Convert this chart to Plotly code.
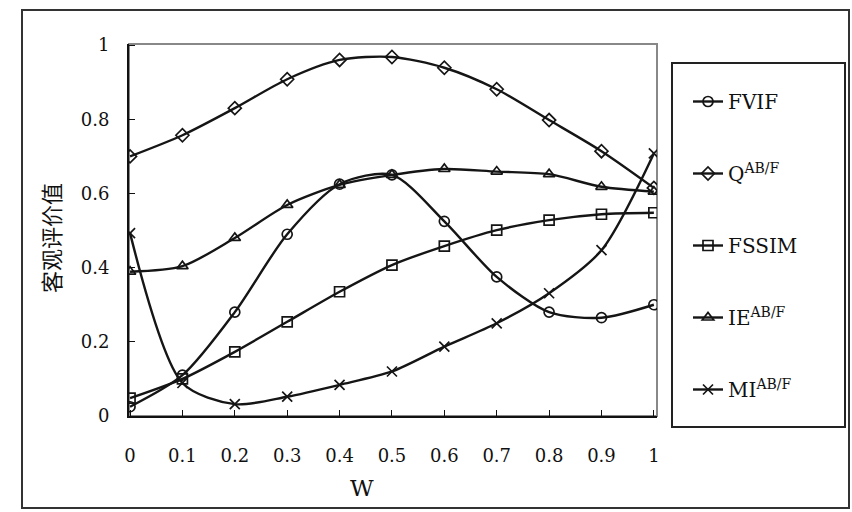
import plotly.graph_objects as go

# ---- data ----
w = [0, 0.1, 0.2, 0.3, 0.4, 0.5, 0.6, 0.7, 0.8, 0.9, 1.0]
fvif = [0.025, 0.11, 0.28, 0.49, 0.625, 0.65, 0.525, 0.375, 0.28, 0.265, 0.30]
qabf = [0.70, 0.757, 0.83, 0.908, 0.96, 0.968, 0.939, 0.881, 0.798, 0.714, 0.615]
fssim = [0.048, 0.10, 0.173, 0.254, 0.335, 0.407, 0.458, 0.501, 0.528, 0.544, 0.548]
ieabf = [0.389, 0.404, 0.48, 0.569, 0.623, 0.65, 0.666, 0.659, 0.652, 0.618, 0.605]
miabf = [0.493, 0.089, 0.032, 0.052, 0.084, 0.12, 0.187, 0.25, 0.331, 0.447, 0.708]
xticks = [0, 0.1, 0.2, 0.3, 0.4, 0.5, 0.6, 0.7, 0.8, 0.9, 1.0]
xticklabels = ["0", "0.1", "0.2", "0.3", "0.4", "0.5", "0.6", "0.7", "0.8", "0.9", "1"]
yticks = [0, 0.2, 0.4, 0.6, 0.8, 1.0]
yticklabels = ["0", "0.2", "0.4", "0.6", "0.8", "1"]

series = [
    ("FVIF", fvif, "circle-open"),
    ("Q<sup>AB/F</sup>", qabf, "diamond-open"),
    ("FSSIM", fssim, "square-open"),
    ("IE<sup>AB/F</sup>", ieabf, "triangle-up-open"),
    ("MI<sup>AB/F</sup>", miabf, "x-thin-open"),
]

W, H = 852, 512
L, R, T, B = 129, 657, 44, 416  # plot area pixels

fig = go.Figure()
for i, (name, vals, sym) in enumerate(series):
    fig.add_trace(go.Scatter(
        x=w, y=vals, name=name, mode="lines+markers",
        line=dict(color="#151515", width=2.4, shape="spline", smoothing=0.8),
        marker=dict(symbol=sym, size=10, color="#151515",
                    line=dict(width=1.7, color="#151515")),
        legendgroup=f"g{i}",
    ))

def px(xp):
    return (xp - L) / (R - L)

def py(yp):
    return (B - yp) / (B - T)

serif = "DejaVu Serif, Liberation Serif, serif"

fig.update_layout(
    width=W, height=H,
    margin=dict(l=L, r=W - R, t=T, b=H - B),
    paper_bgcolor="white", plot_bgcolor="white",
    font=dict(family=serif, size=18, color="#111"),
    showlegend=True,
    legend=dict(
        x=px(688), y=py(82), xanchor="left", yanchor="top",
        bgcolor="rgba(0,0,0,0)", borderwidth=0,
        font=dict(family=serif, size=20, color="#111"),
        tracegroupgap=43, itemwidth=30,
    ),
    xaxis=dict(
        range=[-0.002, 1.006], tickvals=xticks, ticktext=xticklabels,
        showgrid=False, zeroline=False, showline=True, linecolor="#111", linewidth=2,
        ticks="inside", ticklen=6, tickcolor="#111", ticklabelstandoff=22,
        tickfont=dict(family=serif, size=18, color="#111"),
    ),
    yaxis=dict(
        range=[0, 1.003], tickvals=yticks, ticktext=yticklabels,
        showgrid=False, zeroline=False, showline=True, linecolor="#111", linewidth=2,
        ticks="inside", ticklen=6, tickcolor="#111", ticklabelstandoff=14,
        tickfont=dict(family=serif, size=18, color="#111"),
    ),
    shapes=[
        # plot area frame (grey top/right)
        dict(type="rect", xref="paper", yref="paper", x0=0, x1=1, y0=0, y1=1,
             line=dict(color="#888", width=2), layer="below"),
        # legend box
        dict(type="rect", xref="paper", yref="paper", x0=px(672), x1=px(845),
             y0=py(427), y1=py(63), line=dict(color="#222", width=2)),
        # outer chart border
        dict(type="rect", xref="paper", yref="paper", x0=px(22), x1=px(849),
             y0=py(508), y1=py(10), line=dict(color="#333", width=2)),
    ],
    annotations=[
        dict(text="W", xref="paper", yref="paper", x=px(362), y=py(488),
             xanchor="center", yanchor="middle",
             showarrow=False, font=dict(family=serif, size=23, color="#111")),
        dict(text="客观评价值", xref="paper", yref="paper", x=px(50), y=py(238),
             xanchor="center", yanchor="middle",
             showarrow=False, textangle=-90,
             font=dict(family="Noto Sans CJK SC", size=22, color="#111")),
    ],
)

fig.write_html("out.html")
